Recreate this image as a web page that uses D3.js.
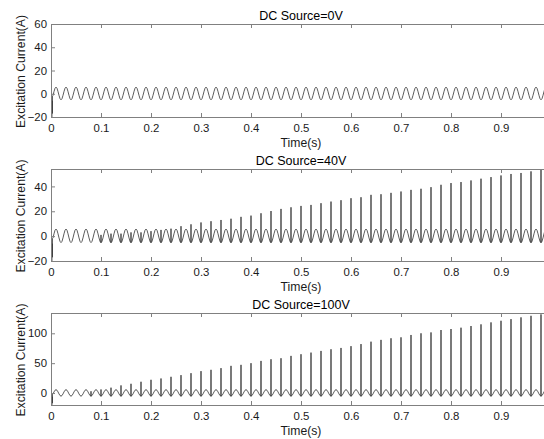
<!DOCTYPE html>
<html>
<head>
<meta charset="utf-8">
<script src="https://cdn.jsdelivr.net/npm/d3@7"></script>
<style>
  html, body { margin: 0; padding: 0; background: #fff; }
  svg { display: block; font-family: "Liberation Sans", Arial, Helvetica, sans-serif; }
</style>
</head>
<body>
<svg id="chart" width="544" height="439"></svg>
<script>
// ---------- data ----------
const titles = ["DC Source=0V", "DC Source=40V", "DC Source=100V"];
const xTicks = [0, 0.1, 0.2, 0.3, 0.4, 0.5, 0.6, 0.7, 0.8, 0.9];
const yTicks0 = [-20, 0, 20, 40, 60];
const yTicks40 = [-20, 0, 20, 40];
const yTicks100 = [0, 50, 100];
const yDomain0 = [-20, 60];
const yDomain40 = [-20, 54];
const yDomain100 = [-20, 134];

// one 50 Hz period of the steady AC excitation current, sampled every 2 ms, starting at a trough (A)
const cycleStep = 0.002;
const cycleShape = [-5.2, -4.2, -1.4, 1.9, 4.7, 5.7, 4.7, 1.9, -1.4, -4.2];
// start-up transient (s, A)
const transientT = [0, 0.0005, 0.001, 0.0015, 0.002, 0.0025, 0.003];
const transientV = [0, -20, -3, -20, -6, -17, -2];

// spike peak at each trough t = 0.02k, k = 1..49 (A); 0 = no spike
const spikes0 = new Array(49).fill(0);
const spikes40 = [0, 0, 0, 0, 1, 2, 2, 3, 3,
  4, 5, 6, 8, 9.5, 11, 12, 13, 14, 15.5, 16.5, 18.4, 20.2,
  21.9, 23.2, 24.3, 25.1, 26.5, 27.8, 28.9, 30.5, 31.3, 33.2, 33.7, 34.8, 35.9, 37.2,
  38.1, 39.4, 41.3, 42.7, 43.5, 44.8, 46.2, 47.5, 48.8, 50, 50.8, 52.1, 53.4];
const spikes100 = [0, 0, 0, 3, 6, 9, 12.8, 15.5, 18.9,
  22.2, 24.4, 27.2, 30, 33.3, 36.7, 38.9, 41.7, 45.5, 47.2, 50, 53.8, 56.6,
  58.3, 62.2, 65, 67.7, 70.5, 73.3, 75.5, 78.5, 82, 86, 89, 91.7, 93.3,
  97.2, 100, 101.5, 105.5, 107.2, 109.4, 112.2, 115, 118.3, 121, 123.8, 126.7, 129.3, 131.7];
const spikeHalfWidth = 0.0004; // s

const nCycles = 50;
const cyclePeriod = cycleStep * cycleShape.length;

function buildSeries(spikes) {
  const pts = transientT.map((t, i) => [t, transientV[i]]);
  for (let c = 0; c < nCycles; c++) {
    for (let j = 0; j < cycleShape.length; j++) {
      const t = c * cyclePeriod + j * cycleStep;
      if (t <= transientT[transientT.length - 1]) continue;
      const v = cycleShape[j];
      const s = (j === 0 && c >= 1) ? spikes[c - 1] : 0;
      if (s > 0) {
        pts.push([t - spikeHalfWidth, v]);
        pts.push([t, s]);
        pts.push([t + spikeHalfWidth, v]);
      } else {
        pts.push([t, v]);
      }
    }
  }
  pts.push([nCycles * cyclePeriod, cycleShape[0]]);
  return pts;
}

const panels = [
  { title: titles[0], spikes: spikes0, yDomain: yDomain0, yTicks: yTicks0, top: 24, bottom: 117 },
  { title: titles[1], spikes: spikes40, yDomain: yDomain40, yTicks: yTicks40, top: 169, bottom: 261 },
  { title: titles[2], spikes: spikes100, yDomain: yDomain100, yTicks: yTicks100, top: 313, bottom: 405 }
];

// ---------- drawing ----------
const svg = d3.select("#chart");
const left = 51, right = 551;
const axisColor = "#808080";
const fontTick = 11.4;

const x = d3.scaleLinear().domain([0, 1]).range([left, right]);

panels.forEach((p, i) => {
  const y = d3.scaleLinear().domain(p.yDomain).range([p.bottom, p.top]);
  const g = svg.append("g");

  g.append("clipPath").attr("id", "clip" + i)
    .append("rect").attr("x", left).attr("y", p.top)
    .attr("width", right - left).attr("height", p.bottom - p.top);

  // data line
  const line = d3.line().x(d => x(d[0])).y(d => y(d[1]));
  g.append("path")
    .datum(buildSeries(p.spikes))
    .attr("clip-path", "url(#clip" + i + ")")
    .attr("fill", "none")
    .attr("stroke", "#262626")
    .attr("stroke-width", 0.75)
    .attr("stroke-linejoin", "round")
    .attr("d", line);

  // axes (MATLAB box style, inward ticks)
  const fmt = d3.format("~g");
  const xb = g.append("g").attr("transform", `translate(0,${p.bottom})`)
    .call(d3.axisBottom(x).tickValues(xTicks).tickFormat(fmt).tickSize(-4).tickPadding(7));
  const xt = g.append("g").attr("transform", `translate(0,${p.top})`)
    .call(d3.axisTop(x).tickValues(xTicks).tickFormat("").tickSize(-4));
  const yl = g.append("g").attr("transform", `translate(${left},0)`)
    .call(d3.axisLeft(y).tickValues(p.yTicks).tickFormat(fmt).tickSize(-4).tickPadding(4));
  [xb, xt, yl].forEach(a => {
    a.select(".domain").remove();
    a.selectAll("line").attr("stroke", axisColor);
    a.selectAll("text").attr("fill", "#1a1a1a").style("font-size", fontTick + "px");
  });

  // box
  g.append("rect")
    .attr("x", left).attr("y", p.top)
    .attr("width", right - left).attr("height", p.bottom - p.top)
    .attr("fill", "none").attr("stroke", axisColor).attr("stroke-width", 1)
    .attr("shape-rendering", "crispEdges");

  // title
  g.append("text")
    .attr("x", (left + right) / 2).attr("y", p.top - 8.5)
    .attr("text-anchor", "middle")
    .attr("dominant-baseline", "central")
    .style("font-size", "12.5px").attr("fill", "#000")
    .text(p.title);

  // x label
  g.append("text")
    .attr("x", (left + right) / 2).attr("y", p.bottom + 25.5)
    .attr("text-anchor", "middle")
    .attr("dominant-baseline", "central")
    .style("font-size", "12.2px").attr("fill", "#1a1a1a")
    .text("Time(s)");

  // y label
  g.append("text")
    .attr("transform", `translate(21,${(p.top + p.bottom) / 2 + 1}) rotate(-90)`)
    .attr("text-anchor", "middle")
    .attr("dominant-baseline", "central")
    .style("font-size", "12.2px").attr("fill", "#1a1a1a")
    .text("Excitation Current(A)");
});
</script>
</body>
</html>
